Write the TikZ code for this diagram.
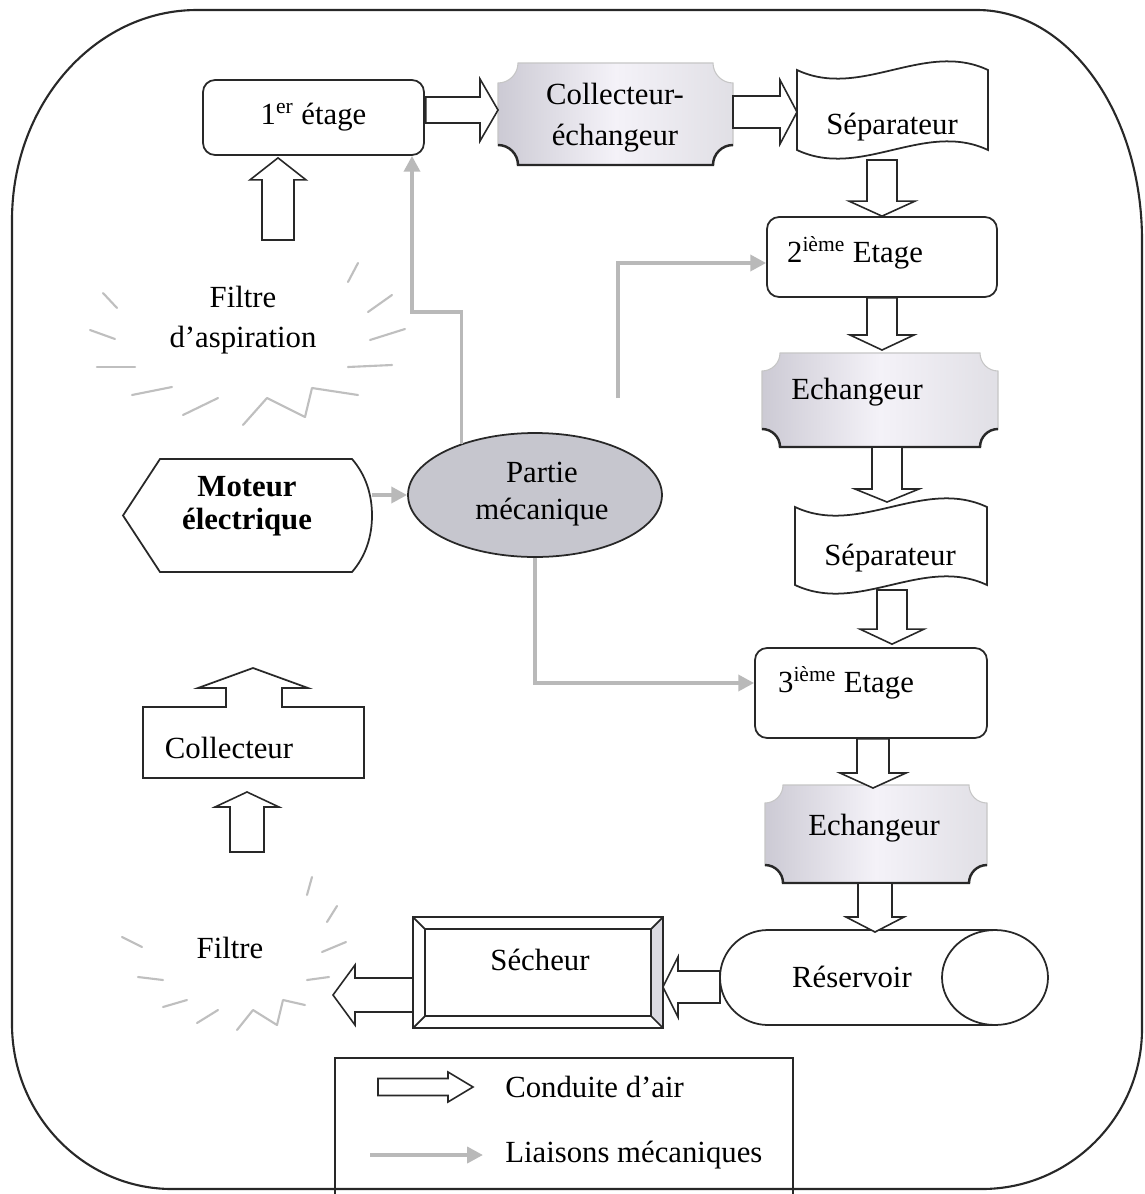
\documentclass[tikz,border=0pt]{standalone}
\usepackage{fontspec}
\setmainfont{Liberation Serif}
\usetikzlibrary{calc,arrows.meta,shapes.geometric}
\definecolor{plqdark}{RGB}{204,202,212}
\definecolor{plqlight}{RGB}{244,242,248}
\definecolor{mechgray}{RGB}{185,185,185}
\definecolor{lineblack}{RGB}{40,40,40}
\definecolor{partiegray}{RGB}{198,198,206}
\tikzset{
  box/.style={draw=lineblack, line width=1pt, rounded corners=0.24cm, inner sep=0pt},
  ghost/.style={inner sep=0pt, outer sep=0pt},
  txt/.style={inner sep=0pt, align=center},
  shapeline/.style={draw=lineblack, line width=1pt},
  airarrow/.style={draw=lineblack, line width=0.9pt, fill=white, line join=miter},
  mech/.style={draw=mechgray, line width=2.2pt, -{Triangle[length=9pt,width=9pt]}},
  burst/.style={draw=gray!50, line width=1.2pt, line cap=round, line join=round},
  plaquefill/.style={left color=plqdark, right color=plqdark!60!white, middle color=plqlight},
}
% block arrow: start, tip, shaft half width, head half width, head length
\newcommand{\blockarrow}[5]{%
  \coordinate (ba-hb) at ($(#2)!#5!(#1)$);
  \draw[airarrow] ($(#1)!#3!90:(#2)$) -- ($(ba-hb)!#3!-90:(#1)$) -- ($(ba-hb)!#4!-90:(#1)$) -- (#2) -- ($(ba-hb)!#4!90:(#1)$) -- ($(ba-hb)!#3!90:(#1)$) -- ($(#1)!#3!-90:(#2)$) -- cycle;
}
% plaque (concave corners): L T R B r
\newcommand{\plaquepath}[5]{(#1+#5,#2) -- (#3-#5,#2) .. controls (#3-#5,#2+0.55*#5) and (#3-0.55*#5,#2+#5) .. (#3,#2+#5) -- (#3,#4-#5) .. controls (#3-0.55*#5,#4-#5) and (#3-#5,#4-0.55*#5) .. (#3-#5,#4) -- (#1+#5,#4) .. controls (#1+#5,#4-0.55*#5) and (#1+0.55*#5,#4-#5) .. (#1,#4-#5) -- (#1,#2+#5) .. controls (#1+0.55*#5,#2+#5) and (#1+#5,#2+0.55*#5) .. (#1+#5,#2) -- cycle}
\newcommand{\plaque}[5]{%
  \shade[plaquefill] \plaquepath{#1}{#2}{#3}{#4}{#5};
  \draw[gray!45, line width=0.6pt] \plaquepath{#1}{#2}{#3}{#4}{#5};
  \draw[lineblack, line width=1.4pt] (#1,#4-#5) .. controls (#1+0.55*#5,#4-#5) and (#1+#5,#4-0.55*#5) .. (#1+#5,#4) -- (#3-#5,#4) .. controls (#3-#5,#4-0.55*#5) and (#3-0.55*#5,#4-#5) .. (#3,#4-#5);
}
% tape (separateur): L T R B d
\newcommand{\tapepath}[5]{(#1,#2) .. controls (#1*2/3+#3/3,#2+#5) and (#1/3+#3*2/3,#2-#5) .. (#3,#2) -- (#3,#4) .. controls (#1/3+#3*2/3,#4-#5) and (#1*2/3+#3/3,#4+#5) .. (#1,#4) -- cycle}
\begin{document}
\begin{tikzpicture}[x=0.02cm, y=-0.02cm, font=\fontsize{17.5}{22}\selectfont]
\useasboundingbox (0,0) rectangle (1145,1194);
\fill[white] (0,0) rectangle (1145,1194);

% outer frame
\draw[lineblack, line width=1.2pt] (12,220) .. controls (12,104) and (95,10) .. (197,10) -- (977,10)
  .. controls (1068,10) and (1142,113) .. (1142,240) -- (1142,1029)
  .. controls (1142,1117) and (1070,1189) .. (982,1189) -- (172,1189)
  .. controls (84,1189) and (12,1115) .. (12,1024) -- cycle;

% ---------- nodes ----------
\node[box, minimum width=4.42cm, minimum height=1.5cm] (stage1) at (313.5,117.5) {1\textsuperscript{er} étage};

\node[ghost, minimum width=4.7cm, minimum height=2.04cm] (collech) at (615.5,114) {};
\plaque{498}{63}{733}{165}{20}
\node[txt, font=\fontsize{17.5}{23.5}\selectfont] (collecht) at (615,118) {Collecteur-\\échangeur};

\node[ghost, minimum width=3.82cm, minimum height=1.64cm] (sep1) at (892.5,109) {};
\draw[shapeline, fill=white] \tapepath{797}{70}{988}{150}{30};
\node[txt] (sep1t) at (892,127) {Séparateur};

\node[box, minimum width=4.6cm, minimum height=1.6cm] (stage2) at (882,257) {};
\node[txt] (stage2t) at (855,253) {2\textsuperscript{ième} Etage};

\node[ghost, minimum width=4.72cm, minimum height=1.88cm] (ech1) at (880,400) {};
\plaque{762}{353}{998}{447}{18}
\node[txt] (ech1t) at (857,392) {Echangeur};

\node[ghost, minimum width=3.84cm, minimum height=1.56cm] (sep2) at (891,546) {};
\draw[shapeline, fill=white] \tapepath{795}{507}{987}{585}{30};
\node[txt] (sep2t) at (890,558) {Séparateur};

\node[box, minimum width=4.64cm, minimum height=1.8cm] (stage3) at (871,693) {};
\node[txt] (stage3t) at (846,683) {3\textsuperscript{ième} Etage};

\node[ghost, minimum width=4.44cm, minimum height=1.96cm] (ech2) at (876,834) {};
\plaque{765}{785}{987}{883}{18}
\node[txt] (ech2t) at (874,828) {Echangeur};

\node[ghost, minimum width=6.56cm, minimum height=1.9cm] (reservoir) at (884,977.5) {};
\draw[shapeline, fill=white] (995,930) -- (768,930) .. controls (741.5,930) and (720,951.3) .. (720,977.5)
  .. controls (720,1003.7) and (741.5,1025) .. (768,1025) -- (995,1025);
\draw[shapeline, fill=white] (995,977.5) ellipse [x radius=1.06cm, y radius=0.95cm];
\node[txt] (reservoirt) at (852,977) {Réservoir};

\node[ghost, minimum width=5cm, minimum height=2.22cm] (secheur) at (538,972.5) {};
\fill[plqdark!70] (651,929) -- (663,917) -- (663,1028) -- (651,1016) -- cycle;
\draw[shapeline] (413,917) rectangle (663,1028);
\draw[shapeline] (425,929) rectangle (651,1016);
\draw[shapeline] (413,917) -- (425,929) (663,917) -- (651,929) (663,1028) -- (651,1016) (413,1028) -- (425,1016);
\node[txt] (secheurt) at (540,960) {Sécheur};

\node[txt] (filtre) at (230,948) {Filtre};
\node[txt, font=\fontsize{17.5}{22.7}\selectfont] (aspiration) at (243,320) {Filtre\\d’aspiration};

\node[ghost, minimum width=4.98cm, minimum height=2.26cm] (moteur) at (247.5,515.5) {};
\draw[shapeline, fill=white] (123,515.5) -- (160,459) -- (352,459) .. controls (366,475) and (372,495) .. (372,515.5)
  .. controls (372,536) and (366,556) .. (352,572) -- (160,572) -- cycle;
\node[txt, font=\bfseries\fontsize{17.5}{18.8}\selectfont] (moteurt) at (247,506) {Moteur\\électrique};

\node[ellipse, draw=lineblack, line width=1pt, fill=partiegray, minimum width=5.08cm, minimum height=2.48cm, inner sep=0pt] (partie) at (535,495) {};
\node[txt, font=\fontsize{17.5}{21}\selectfont] (partiet) at (542,494) {Partie\\mécanique};

\node[ghost, minimum width=4.42cm, minimum height=1.42cm] (collect) at (253.5,742.5) {};
\draw[shapeline, fill=white] (143,707) -- (226,707) -- (226,688) -- (198,688) -- (253,668) -- (308,688) -- (282,688) -- (282,707) -- (364,707) -- (364,778) -- (143,778) -- cycle;
\node[txt] (collectt) at (229,748) {Collecteur};

% legend
\draw[shapeline] (335,1194) -- (335,1058) -- (793,1058) -- (793,1194);
\node[txt, anchor=west] (lgt1) at (505,1087) {Conduite d’air};
\node[txt, anchor=west] (lgt2) at (505,1155) {Liaisons mécaniques};

% bursts
\draw[burst] (348,282) -- (358,263);
\draw[burst] (368,312) -- (392,295);
\draw[burst] (370,340) -- (405,329);
\draw[burst] (348,367) -- (392,365);
\draw[burst] (243,425) -- (267,398) -- (305,417) -- (312,388) -- (358,395);
\draw[burst] (183,415) -- (218,398);
\draw[burst] (132,395) -- (172,387);
\draw[burst] (97,367) -- (135,367);
\draw[burst] (90,330) -- (115,339);
\draw[burst] (103,293) -- (117,308);

\draw[burst] (312,877) -- (307,895);
\draw[burst] (337,906) -- (327,922);
\draw[burst] (322,952) -- (346,942);
\draw[burst] (307,980) -- (329,977);
\draw[burst] (237,1030) -- (253,1010) -- (277,1025) -- (283,1000) -- (305,1005);
\draw[burst] (197,1023) -- (218,1010);
\draw[burst] (163,1007) -- (187,1000);
\draw[burst] (138,977) -- (163,980);
\draw[burst] (122,937) -- (142,947);

% ---------- air connectors ----------
\coordinate (a1s) at ($(stage1.east)+(1,-7.5)$);
\coordinate (a1e) at ($(collech.west)+(0,-4)$);
\blockarrow{a1s}{a1e}{0.26cm}{0.62cm}{0.36cm}
\coordinate (a2s) at ($(collech.east)+(0,-2)$);
\coordinate (a2e) at ($(sep1.west)+(0,3)$);
\blockarrow{a2s}{a2e}{0.32cm}{0.64cm}{0.34cm}
\coordinate (a3s) at ($(sep1.south)+(-10.5,10)$);
\coordinate (a3e) at (stage2.north);
\blockarrow{a3s}{a3e}{0.3cm}{0.66cm}{0.3cm}
\coordinate (a4s) at (stage2.south);
\coordinate (a4e) at ($(ech1.north)+(2,-3)$);
\blockarrow{a4s}{a4e}{0.3cm}{0.64cm}{0.3cm}
\coordinate (a5s) at ($(ech1.south)+(7,0)$);
\coordinate (a5e) at ($(sep2.north)+(-4,-5)$);
\blockarrow{a5s}{a5e}{0.3cm}{0.64cm}{0.26cm}
\coordinate (a6s) at ($(sep2.south)+(1,5)$);
\coordinate (a6e) at ($(stage3.north)+(21,-3)$);
\blockarrow{a6s}{a6e}{0.3cm}{0.64cm}{0.3cm}
\coordinate (a7s) at ($(stage3.south)+(2,0)$);
\coordinate (a7e) at ($(ech2.north)+(-3,3)$);
\blockarrow{a7s}{a7e}{0.32cm}{0.66cm}{0.3cm}
\coordinate (a8s) at ($(ech2.south)+(-1,0)$);
\coordinate (a8e) at ($(reservoir.north)+(-9,2)$);
\blockarrow{a8s}{a8e}{0.34cm}{0.58cm}{0.3cm}
\coordinate (a9s) at ($(reservoir.west)+(0,9.5)$);
\coordinate (a9e) at ($(secheur.east)+(0,14.5)$);
\blockarrow{a9s}{a9e}{0.32cm}{0.6cm}{0.3cm}
\coordinate (a10s) at ($(secheur.west)+(0,22.5)$);
\coordinate (filtrein) at (333,995);
\blockarrow{a10s}{filtrein}{0.34cm}{0.6cm}{0.44cm}
\coordinate (aspout) at (278,240);
\coordinate (a11e) at ($(stage1.south)+(-35.5,2)$);
\blockarrow{aspout}{a11e}{0.32cm}{0.56cm}{0.44cm}
\coordinate (collin) at (247,852);
\coordinate (a12e) at ($(collect.south)+(-6.5,14)$);
\blockarrow{collin}{a12e}{0.34cm}{0.64cm}{0.3cm}
\coordinate (lga) at (378,1087);
\coordinate (lgb) at (473,1087);
\blockarrow{lga}{lgb}{0.17cm}{0.3cm}{0.5cm}

% ---------- mechanical links ----------
\draw[mech] (moteur.east |- partie.west) -- (partie.west);
\coordinate (m2a) at (412,312);
\draw[mech] (partie.145) |- (m2a) -- (stage1.south -| m2a);
\coordinate (m3a) at (618,398);
\coordinate (s2in) at ($(stage2.west)+(0,6)$);
\draw[mech] (m3a) |- (s2in);
\coordinate (s3in) at ($(stage3.west)+(0,-10)$);
\draw[mech] (partie.south) |- (s3in);
\coordinate (lgc) at (370,1155);
\coordinate (lgd) at (483,1155);
\draw[mech] (lgc) -- (lgd);
\end{tikzpicture}
\end{document}
